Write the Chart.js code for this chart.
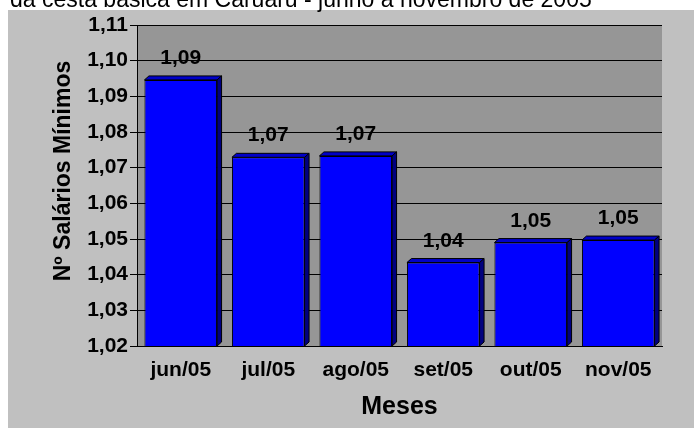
<!DOCTYPE html>
<html>
<head>
<meta charset="utf-8">
<script src="https://cdn.jsdelivr.net/npm/chart.js@4/dist/chart.umd.min.js"></script>
<style>
  html, body { margin: 0; padding: 0; background: #ffffff; }
  #wrap { width: 694px; height: 428px; }
</style>
</head>
<body>
<div id="wrap"><canvas id="c" width="694" height="428"></canvas></div>
<script>
// ---- data ----
const categories = ['jun/05', 'jul/05', 'ago/05', 'set/05', 'out/05', 'nov/05'];
const salariosMinimos = [1.0946, 1.0729, 1.0733, 1.0434, 1.0490, 1.0497];
const yMin = 1.02;
const yMax = 1.11;
const yStep = 0.01;
const titleLine = 'da cesta básica em Caruaru - junho a novembro de 2005';
const xTitle = 'Meses';
const yTitle = 'Nº Salários Mínimos';

const FONT = "'Liberation Sans', Arial, Helvetica, sans-serif";
const fmt = v => Number(v).toFixed(2).replace('.', ',');

const backgroundPlugin = {
  id: 'bg',
  beforeDraw(chart) {
    const ctx = chart.ctx;
    const a = chart.chartArea;
    ctx.save();
    ctx.fillStyle = '#ffffff';
    ctx.fillRect(0, 0, chart.width, chart.height);
    ctx.fillStyle = '#c0c0c0';
    ctx.fillRect(8, 10, chart.width - 8, chart.height - 10);
    ctx.fillStyle = '#969696';
    ctx.fillRect(a.left, a.top, a.right - a.left, a.bottom - a.top);
    // clipped title line at the very top
    ctx.fillStyle = '#000000';
    ctx.font = "23px " + FONT;
    ctx.textAlign = 'left';
    ctx.textBaseline = 'alphabetic';
    ctx.fillText(titleLine, 10, 7);
    ctx.restore();
  }
};

const bars3dPlugin = {
  id: 'bars3d',
  beforeDatasetsDraw(chart) {
    const ctx = chart.ctx;
    const a = chart.chartArea;
    const meta = chart.getDatasetMeta(0);
    const dx = 4.5, dy = 4;
    ctx.save();
    ctx.lineWidth = 1;
    ctx.strokeStyle = '#000000';
    meta.data.forEach(bar => {
      const p = bar.getProps(['x', 'y', 'base', 'width'], true);
      const l = p.x - p.width / 2, r = p.x + p.width / 2;
      const t = p.y, b = Math.min(p.base, a.bottom);
      // top face
      ctx.beginPath();
      ctx.moveTo(l, t);
      ctx.lineTo(l + dx, t - dy);
      ctx.lineTo(r + dx, t - dy);
      ctx.lineTo(r, t);
      ctx.closePath();
      ctx.fillStyle = '#0000c8';
      ctx.fill();
      ctx.stroke();
      // side face
      ctx.beginPath();
      ctx.moveTo(r, t);
      ctx.lineTo(r + dx, t - dy);
      ctx.lineTo(r + dx, b - dy);
      ctx.lineTo(r, b);
      ctx.closePath();
      ctx.fillStyle = '#000080';
      ctx.fill();
      ctx.stroke();
    });
    ctx.restore();
  }
};

const labelsPlugin = {
  id: 'valueLabels',
  afterDatasetsDraw(chart) {
    const ctx = chart.ctx;
    const meta = chart.getDatasetMeta(0);
    const data = chart.data.datasets[0].data;
    ctx.save();
    ctx.fillStyle = '#000000';
    ctx.font = "bold 21px " + FONT;
    ctx.textAlign = 'center';
    ctx.textBaseline = 'alphabetic';
    meta.data.forEach((bar, i) => {
      const p = bar.getProps(['x', 'y'], true);
      ctx.fillText(fmt(data[i]), p.x, p.y - 16);
    });
    ctx.restore();
  }
};

const yTitlePlugin = {
  id: 'yTitle',
  afterDraw(chart) {
    const ctx = chart.ctx;
    ctx.save();
    ctx.translate(70, 171);
    ctx.rotate(-Math.PI / 2);
    ctx.fillStyle = '#000000';
    ctx.font = "bold 23px " + FONT;
    ctx.textAlign = 'center';
    ctx.textBaseline = 'alphabetic';
    ctx.fillText(yTitle, 0, 0);
    ctx.restore();
  }
};

new Chart(document.getElementById('c'), {
  type: 'bar',
  data: {
    labels: categories,
    datasets: [{
      label: yTitle,
      data: salariosMinimos,
      backgroundColor: '#0000ff',
      borderColor: '#000000',
      borderWidth: 1,
      borderSkipped: false,
      barPercentage: 0.83,
      categoryPercentage: 1.0
    }]
  },
  options: {
    responsive: false,
    devicePixelRatio: 1,
    animation: false,
    layout: { padding: { left: 0, right: 32, top: 25, bottom: 0 } },
    plugins: {
      legend: { display: false },
      tooltip: { enabled: false },
      title: { display: false }
    },
    scales: {
      x: {
        offset: true,
        grid: { display: false, drawTicks: false },
        border: { display: true, color: '#000000', width: 1 },
        ticks: {
          color: '#000000',
          font: { family: FONT, size: 21, weight: 'bold' },
          padding: 12,
          maxRotation: 0,
          autoSkip: false
        },
        title: {
          display: true,
          text: xTitle,
          color: '#000000',
          font: { family: FONT, size: 25, weight: 'bold' },
          padding: { top: 0, bottom: 6 }
        },
        afterFit(scale) { scale.height = 82; }
      },
      y: {
        min: yMin,
        max: yMax,
        grid: {
          color: '#000000',
          lineWidth: 1,
          tickLength: 7,
          drawTicks: true,
          tickColor: '#000000'
        },
        border: { display: true, color: '#000000', width: 1 },
        ticks: {
          stepSize: yStep,
          color: '#000000',
          font: { family: FONT, size: 21, weight: 'bold' },
          padding: 2,
          callback: v => fmt(v)
        },
        afterFit(scale) { scale.width = 137; }
      }
    }
  },
  plugins: [backgroundPlugin, bars3dPlugin, labelsPlugin, yTitlePlugin]
});
</script>
</body>
</html>
